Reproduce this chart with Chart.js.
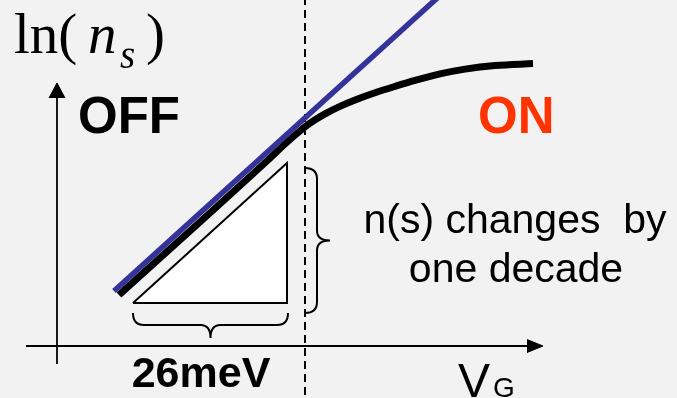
<!DOCTYPE html>
<html>
<head>
<meta charset="utf-8">
<script src="https://cdn.jsdelivr.net/npm/chart.js@4/dist/chart.umd.min.js"></script>
<style>
  html, body { margin: 0; padding: 0; background: #f2f2f2; }
  #c { display: block; }
</style>
</head>
<body>
<canvas id="c" width="677" height="398"></canvas>
<script>
// ---- data (schematic units: V_G along x, ln(n_s) along y) ----
const slopeV  = [114, 441];            // ideal exponential (straight line in log scale)
const slopeLn = [107, 403.4];
const curveV  = [119, 268, 285, 298, 310, 325, 340, 357, 375, 395, 415, 440, 465, 495, 533];
const curveLn = [103, 238, 254, 265.4, 274.8, 284.1, 291.6, 298.7, 305.2, 311.6, 317.6, 324.1, 328.9, 332.5, 334.4];
const triV    = [133, 287, 287, 133];  // 26 meV / one decade triangle
const triLn   = [95, 95, 235, 95];
const thresholdV = 305;                // threshold voltage (dashed line)
const axisV  = [26, 530];              // horizontal axis extent
const axisLn = [34, 300];              // vertical axis extent
const axisOriginV = 57, axisOriginLn = 52;
const arrowXV = [527, 543, 527], arrowXLn = [58.5, 52, 45.5];
const arrowYV = [49, 57, 65],     arrowYLn = [300, 315, 300];

const pts = (xs, ys) => xs.map((x, i) => ({ x, y: ys[i] }));

const texts = [
  { t: 'ln(', x: 14,  y: 345, font: '57px "Liberation Serif"', color: '#000', align: 'left' },
  { t: 'n',   x: 88,  y: 345, font: 'italic 57px "Liberation Serif"', color: '#000', align: 'left' },
  { t: 's',   x: 120, y: 330, font: 'italic 39px "Liberation Serif"', color: '#000', align: 'left' },
  { t: ')',   x: 146, y: 345, font: '57px "Liberation Serif"', color: '#000', align: 'left' },
  { t: 'OFF', x: 78,  y: 265, font: 'bold 51px "Liberation Sans"', color: '#000', align: 'left' },
  { t: 'ON',  x: 478, y: 265, font: 'bold 51px "Liberation Sans"', color: '#ff3300', align: 'left' },
  { t: 'n(s) changes  by', x: 515, y: 165, font: '41px "Liberation Sans"', color: '#000', align: 'center' },
  { t: 'one decade', x: 516, y: 116, font: '41px "Liberation Sans"', color: '#000', align: 'center' },
  { t: '26meV', x: 201, y: 11, font: 'bold 43px "Liberation Sans"', color: '#000', align: 'center' },
  { t: 'V', x: 458, y: 1, font: '48px "Liberation Sans"', color: '#000', align: 'left' },
  { t: 'G', x: 493, y: 1, font: '28px "Liberation Sans"', color: '#000', align: 'left' }
];

// braces: from point a to point b, bulging to the given side, depth in data units
const braces = [
  { a: { x: 133, y: 85 }, b: { x: 288, y: 85 }, depth: 25 },   // under triangle (26 meV)
  { a: { x: 305, y: 85 }, b: { x: 305, y: 230 }, depth: 25 }   // right of triangle (one decade)
];

const overlay = {
  id: 'overlay',
  beforeDraw(chart) {
    const { ctx, width, height } = chart;
    ctx.save();
    ctx.fillStyle = '#f2f2f2';
    ctx.fillRect(0, 0, width, height);
    ctx.restore();
  },
  afterDatasetsDraw(chart) {
    const { ctx } = chart;
    const sx = chart.scales.x, sy = chart.scales.y;
    // braces
    ctx.save();
    ctx.strokeStyle = '#000';
    ctx.lineWidth = 2;
    braces.forEach(br => {
      const x1 = sx.getPixelForValue(br.a.x), y1 = sy.getPixelForValue(br.a.y);
      const x2 = sx.getPixelForValue(br.b.x), y2 = sy.getPixelForValue(br.b.y);
      const L = Math.hypot(x2 - x1, y2 - y1);
      const d = Math.abs(sy.getPixelForValue(0) - sy.getPixelForValue(br.depth));
      const h = d * 0.48, r = 11, rm = 10;
      ctx.save();
      ctx.translate(x1, y1);
      ctx.rotate(Math.atan2(y2 - y1, x2 - x1));
      ctx.beginPath();
      ctx.moveTo(0, 0);
      ctx.quadraticCurveTo(0, h, r, h);
      ctx.lineTo(L / 2 - rm, h);
      ctx.quadraticCurveTo(L / 2, h, L / 2, d);
      ctx.quadraticCurveTo(L / 2, h, L / 2 + rm, h);
      ctx.lineTo(L - r, h);
      ctx.quadraticCurveTo(L, h, L, 0);
      ctx.stroke();
      ctx.restore();
    });
    ctx.restore();
    // texts
    ctx.save();
    ctx.textBaseline = 'alphabetic';
    texts.forEach(o => {
      ctx.font = o.font;
      ctx.fillStyle = o.color;
      ctx.textAlign = o.align;
      ctx.fillText(o.t, sx.getPixelForValue(o.x), sy.getPixelForValue(o.y));
    });
    ctx.restore();
  }
};

const line = (data, color, width, order, extra) => Object.assign({
  data, borderColor: color, borderWidth: width, pointRadius: 0, showLine: true,
  fill: false, order, borderCapStyle: 'butt', tension: 0
}, extra || {});

new Chart(document.getElementById('c'), {
  type: 'scatter',
  data: {
    datasets: [
      line(pts(slopeV, slopeLn), '#333399', 5.5, 1),
      line(pts(curveV, curveLn), '#000000', 7, 2, { cubicInterpolationMode: 'monotone' }),
      line(pts([thresholdV, thresholdV], [-10, 410]), '#000000', 2, 3, { borderDash: [8, 5] }),
      line(pts(axisV, [axisOriginLn, axisOriginLn]), '#000000', 1.8, 4),
      line(pts([axisOriginV, axisOriginV], axisLn), '#000000', 1.8, 4),
      line(pts(arrowXV, arrowXLn), '#000000', 1, 4, { fill: 'shape', backgroundColor: '#000000' }),
      line(pts(arrowYV, arrowYLn), '#000000', 1, 4, { fill: 'shape', backgroundColor: '#000000' }),
      line(pts(triV, triLn), '#000000', 2, 6, { fill: 'shape', backgroundColor: '#ffffff', borderJoinStyle: 'miter' })
    ]
  },
  options: {
    responsive: false,
    devicePixelRatio: 1,
    animation: false,
    layout: { padding: 0 },
    plugins: { legend: { display: false }, tooltip: { enabled: false }, title: { display: false } },
    events: [],
    scales: {
      x: { type: 'linear', min: 0, max: 677, display: false },
      y: { type: 'linear', min: 0, max: 398, display: false }
    }
  },
  plugins: [overlay]
});
</script>
</body>
</html>
